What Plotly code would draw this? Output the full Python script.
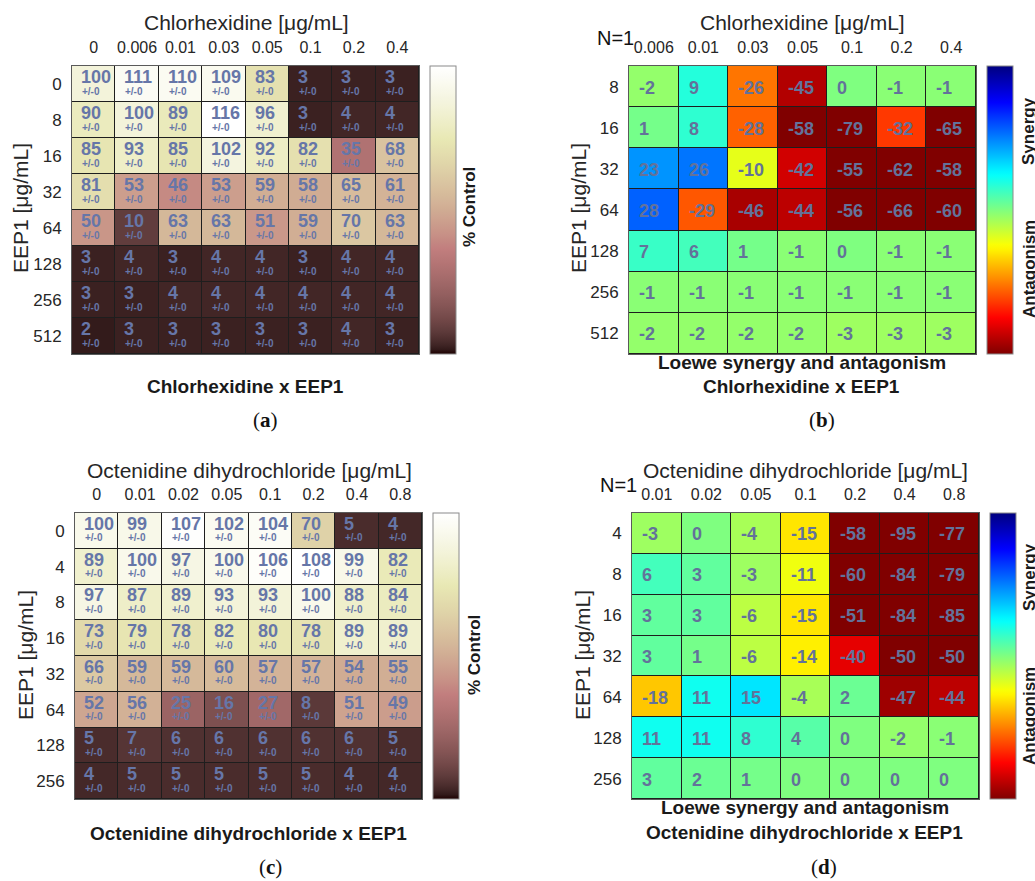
import plotly.graph_objects as go

# ---------------- data ----------------
chx_conc_a = ["0", "0.006", "0.01", "0.03", "0.05", "0.1", "0.2", "0.4"]
eep_a = ["0", "8", "16", "32", "64", "128", "256", "512"]
pct_a = [
    [100, 111, 110, 109, 83, 3, 3, 3],
    [90, 100, 89, 116, 96, 3, 4, 4],
    [85, 93, 85, 102, 92, 82, 35, 68],
    [81, 53, 46, 53, 59, 58, 65, 61],
    [50, 10, 63, 63, 51, 59, 70, 63],
    [3, 4, 3, 4, 4, 3, 4, 4],
    [3, 3, 4, 4, 4, 4, 4, 4],
    [2, 3, 3, 3, 3, 3, 4, 3],
]

chx_conc_b = ["0.006", "0.01", "0.03", "0.05", "0.1", "0.2", "0.4"]
eep_b = ["8", "16", "32", "64", "128", "256", "512"]
loewe_b = [
    [-2, 9, -26, -45, 0, -1, -1],
    [1, 8, -28, -58, -79, -32, -65],
    [23, 26, -10, -42, -55, -62, -58],
    [28, -29, -46, -44, -56, -66, -60],
    [7, 6, 1, -1, 0, -1, -1],
    [-1, -1, -1, -1, -1, -1, -1],
    [-2, -2, -2, -2, -3, -3, -3],
]

oct_conc_c = ["0", "0.01", "0.02", "0.05", "0.1", "0.2", "0.4", "0.8"]
eep_c = ["0", "4", "8", "16", "32", "64", "128", "256"]
pct_c = [
    [100, 99, 107, 102, 104, 70, 5, 4],
    [89, 100, 97, 100, 106, 108, 99, 82],
    [97, 87, 89, 93, 93, 100, 88, 84],
    [73, 79, 78, 82, 80, 78, 89, 89],
    [66, 59, 59, 60, 57, 57, 54, 55],
    [52, 56, 25, 16, 27, 8, 51, 49],
    [5, 7, 6, 6, 6, 6, 6, 5],
    [4, 5, 5, 5, 5, 5, 4, 4],
]

oct_conc_d = ["0.01", "0.02", "0.05", "0.1", "0.2", "0.4", "0.8"]
eep_d = ["4", "8", "16", "32", "64", "128", "256"]
loewe_d = [
    [-3, 0, -4, -15, -58, -95, -77],
    [6, 3, -3, -11, -60, -84, -79],
    [3, 3, -6, -15, -51, -84, -85],
    [3, 1, -6, -14, -40, -50, -50],
    [-18, 11, 15, -4, 2, -47, -44],
    [11, 11, 8, 4, 0, -2, -1],
    [3, 2, 1, 0, 0, 0, 0],
]
sd_text = "+/-0"

# ---------------- colormaps (MATLAB pink / jet) ----------------
def clamp(v):
    return max(0.0, min(1.0, v))

def pink_scale(n=64):
    out = []
    for i in range(n):
        g = i / (n - 1)
        r_h = clamp((i + 1) / 24)
        g_h = clamp((i + 1 - 24) / 24)
        b_h = clamp((i + 1 - 48) / 16)
        r = ((2 * g + r_h) / 3) ** 0.5
        gg = ((2 * g + g_h) / 3) ** 0.5
        b = ((2 * g + b_h) / 3) ** 0.5
        out.append([i / (n - 1), f"rgb({round(r*255)},{round(gg*255)},{round(b*255)})"])
    return out

def jet_rev_scale(n=64):
    out = []
    for i in range(n):
        p = i / (n - 1)
        t = 1 - p
        r = clamp(min(4 * t - 1.5, -4 * t + 4.5))
        g = clamp(min(4 * t - 0.5, -4 * t + 3.5))
        b = clamp(min(4 * t + 0.5, -4 * t + 2.5))
        out.append([p, f"rgb({round(r*255)},{round(g*255)},{round(b*255)})"])
    return out

PINK = pink_scale()
JET = jet_rev_scale()

W, H = 1035, 881
def px(x):
    return x / W
def py(y):
    return 1 - y / H

fig = go.Figure()

panels = [
    dict(n=1, xc=chx_conc_a, yc=eep_a, z=pct_a, cs=PINK, cmin=0, cmax=max(max(r) for r in pct_a),
         box=(72, 419, 66, 354), cbx=430, sd=True),
    dict(n=2, xc=chx_conc_b, yc=eep_b, z=loewe_b, cs=JET, cmin=-50, cmax=50,
         box=(629, 976, 66, 354), cbx=987, sd=False),
    dict(n=3, xc=oct_conc_c, yc=eep_c, z=pct_c, cs=PINK, cmin=0, cmax=max(max(r) for r in pct_c),
         box=(75, 422, 513, 799), cbx=433, sd=True),
    dict(n=4, xc=oct_conc_d, yc=eep_d, z=loewe_d, cs=JET, cmin=-50, cmax=50,
         box=(632, 979, 513, 799), cbx=990, sd=False),
]

annotations = []
font_main = "Arial, Liberation Sans, sans-serif"

for p in panels:
    n = p["n"]
    xa = "x" if n == 1 else f"x{n}"
    ya = "y" if n == 1 else f"y{n}"
    x0, x1, y0, y1 = p["box"]
    xi = list(range(len(p["xc"])))
    yi = list(range(len(p["yc"])))
    fig.add_trace(go.Heatmap(
        x=xi, y=yi, z=p["z"], xaxis=xa, yaxis=ya,
        colorscale=p["cs"], zmin=p["cmin"], zmax=p["cmax"],
        xgap=1, ygap=1, hoverinfo="skip",
        colorbar=dict(x=px(p["cbx"]), xanchor="left", y=py(y0), yanchor="top",
                      thickness=26, thicknessmode="pixels",
                      len=(y1 - y0), lenmode="pixels", xpad=0, ypad=0,
                      outlinewidth=1, outlinecolor="#8a8a8a",
                      showticklabels=False, ticks=""),
    ))
    axis_common = dict(showgrid=False, zeroline=False,
                       showline=True, mirror=True, linecolor="#5a5a5a", linewidth=1)
    fig.layout[("xaxis" if n == 1 else f"xaxis{n}")] = dict(
        axis_common, domain=[px(x0), px(x1)], anchor=ya, side="top",
        range=[-0.5, len(xi) - 0.5],
        tickmode="array", tickvals=xi, ticktext=p["xc"],
        ticks="outside", ticklen=6, tickcolor="rgba(0,0,0,0)",
        tickfont=dict(size=16, color="#262626", family=font_main))
    fig.layout[("yaxis" if n == 1 else f"yaxis{n}")] = dict(
        axis_common, domain=[py(y1), py(y0)], anchor=xa,
        range=[len(yi) - 0.5, -0.5],
        tickmode="array", tickvals=yi, ticktext=p["yc"],
        ticks="outside", ticklen=6, tickcolor="rgba(0,0,0,0)",
        tickfont=dict(size=17, color="#262626", family=font_main))

    for i in yi:
        for j in xi:
            val = p["z"][i][j]
            if p["sd"]:
                annotations.append(dict(
                    x=j - 0.5, y=i, xref=xa, yref=ya, text=f"<b>{val}</b>",
                    xanchor="left", yanchor="middle", showarrow=False,
                    xshift=8, yshift=7, borderpad=0,
                    font=dict(size=18, color="#6676a8", family=font_main)))
                annotations.append(dict(
                    x=j - 0.5, y=i, xref=xa, yref=ya, text=f"<b>{sd_text}</b>",
                    xanchor="left", yanchor="middle", showarrow=False,
                    xshift=9, yshift=-7, borderpad=0,
                    font=dict(size=10, color="#6676a8", family=font_main)))
            else:
                annotations.append(dict(
                    x=j - 0.5, y=i, xref=xa, yref=ya, text=f"<b>{val}</b>",
                    xanchor="left", yanchor="middle", showarrow=False,
                    xshift=9, yshift=-1, borderpad=0,
                    font=dict(size=18, color="#63729a", family=font_main)))

def txt(x, y, text, size, bold=False, angle=0, color="#262626", family=font_main):
    annotations.append(dict(
        x=px(x), y=py(y), xref="paper", yref="paper", text=(f"<b>{text}</b>" if bold else text),
        showarrow=False, xanchor="center", yanchor="middle", textangle=angle,
        font=dict(size=size, color=color, family=family)))

serif = "Liberation Serif, serif"
# panel (a)
txt(246, 23, "Chlorhexidine [μg/mL]", 21)
txt(20, 208, "EEP1 [μg/mL]", 21, angle=-90)
txt(470, 207, "% Control", 17, bold=True, angle=-90, color="#1a1a1a")
txt(245, 386, "Chlorhexidine x EEP1", 19, bold=True, color="#1a1a1a")
txt(265, 420, "(<b>a</b>)", 21, family=serif, color="#111")
# panel (b)
txt(802, 23, "Chlorhexidine [μg/mL]", 21)
txt(615, 38, "N=1", 20, color="#111")
txt(578, 208, "EEP1 [μg/mL]", 21, angle=-90)
txt(1029, 131, "Synergy", 17, bold=True, angle=-90, color="#1a1a1a")
txt(1029, 269, "Antagonism", 17, bold=True, angle=-90, color="#1a1a1a")
txt(802, 362, "Loewe synergy and antagonism", 19, bold=True, color="#1a1a1a")
txt(801, 386, "Chlorhexidine x EEP1", 19, bold=True, color="#1a1a1a")
txt(822, 420, "(<b>b</b>)", 21, family=serif, color="#111")
# panel (c)
txt(249, 470, "Octenidine dihydrochloride [μg/mL]", 21)
txt(25, 655, "EEP1 [μg/mL]", 21, angle=-90)
txt(474, 655, "% Control", 17, bold=True, angle=-90, color="#1a1a1a")
txt(248, 833, "Octenidine dihydrochloride x EEP1", 19, bold=True, color="#1a1a1a")
txt(270, 867, "(<b>c</b>)", 21, family=serif, color="#111")
# panel (d)
txt(805, 470, "Octenidine dihydrochloride [μg/mL]", 21)
txt(618, 485, "N=1", 20, color="#111")
txt(582, 655, "EEP1 [μg/mL]", 21, angle=-90)
txt(1029, 577, "Synergy", 17, bold=True, angle=-90, color="#1a1a1a")
txt(1029, 716, "Antagonism", 17, bold=True, angle=-90, color="#1a1a1a")
txt(805, 807, "Loewe synergy and antagonism", 19, bold=True, color="#1a1a1a")
txt(804, 832, "Octenidine dihydrochloride x EEP1", 19, bold=True, color="#1a1a1a")
txt(824, 867, "(<b>d</b>)", 21, family=serif, color="#111")

fig.update_layout(
    width=W, height=H, margin=dict(l=0, r=0, t=0, b=0),
    paper_bgcolor="white", plot_bgcolor="#1e1e1e",
    showlegend=False, annotations=annotations,
    font=dict(family=font_main),
)

fig.write_html("out.html", config={"displayModeBar": False},
               post_script="document.body.style.margin='0';document.body.style.overflow='hidden';")
